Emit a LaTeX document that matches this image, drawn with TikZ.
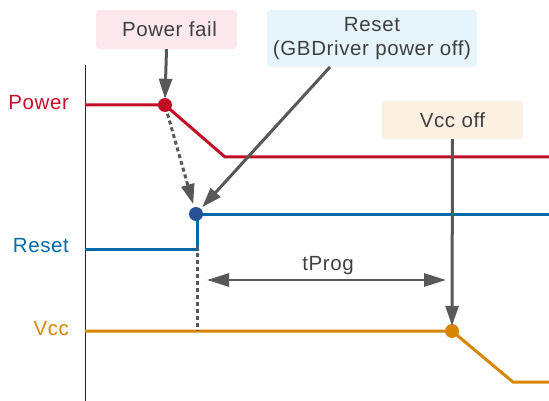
\documentclass[tikz,border=0pt]{standalone}
\usepackage{fontspec}
\setmainfont[LetterSpace=3]{Liberation Sans}
\usetikzlibrary{arrows.meta}
\definecolor{pwr}{RGB}{192,16,40}
\definecolor{rst}{RGB}{0,105,170}
\definecolor{rstdot}{RGB}{40,82,152}
\definecolor{vcc}{RGB}{214,134,0}
\definecolor{arrgray}{RGB}{88,88,88}
\definecolor{txtgray}{RGB}{64,64,64}
\definecolor{pinkbox}{RGB}{251,231,236}
\definecolor{bluebox}{RGB}{230,244,251}
\definecolor{beigebox}{RGB}{252,240,226}
\begin{document}
\begin{tikzpicture}[x=1pt,y=-1pt,
  every node/.style={font=\fontsize{20.5}{24}\selectfont},
  callout/.style={rounded corners=4pt, inner sep=0pt, text=txtgray, align=center},
  sig/.style={line width=3pt, line join=miter},
  dot/.style={circle, inner sep=0pt, minimum size=14pt},
  arr/.style={draw=arrgray, line width=3pt, -{Triangle[length=20pt,width=13pt]}},
  darr/.style={draw=arrgray, line width=2.8pt, {Triangle[length=22pt,width=13pt]}-{Triangle[length=22pt,width=13pt]}},
  dsh/.style={draw=arrgray, line width=3pt, dash pattern=on 4pt off 3pt},
  lab/.style={anchor=east}
]
\useasboundingbox (0,0) rectangle (549,401);
% axis
\draw[line width=1pt, draw=black!85] (85,65) -- (85,401);
% callouts
\node[callout, fill=pinkbox, minimum width=141pt, minimum height=39pt] (pf) at (166.5,29.5) {\hspace{6pt}Power fail};
\node[callout, fill=bluebox, minimum width=210pt, minimum height=57pt] (rs) at (372,38.5) {Reset\\(GBDriver power off)};
\node[callout, fill=beigebox, minimum width=141pt, minimum height=38pt] (vo) at (452.5,120) {Vcc off};
% labels
\node[lab, text=pwr] (lp) at (72.5,103) {Power};
\node[lab, text=rst] (lr) at (72.5,246) {Reset};
\node[lab, text=vcc] (lv) at (72.5,329) {Vcc};
% signal coordinates
\coordinate (p0) at (85,105);
\coordinate (p1) at (165,105);
\coordinate (p2) at (225,157);
\coordinate (p3) at (549,157);
\coordinate (r0) at (85,249);
\coordinate (r1) at (197,249);
\coordinate (r2) at (197,214);
\coordinate (r3) at (549,214);
\coordinate (v0) at (85,331);
\coordinate (v1) at (452,331);
\coordinate (v2) at (513,382);
\coordinate (v3) at (549,382);
\coordinate (vq) at (197,331);
% signals
\draw[sig, draw=pwr] (p0) -- (p1) -- (p2) -- (p3);
\draw[sig, draw=rst] (r0) -- (r1) -- (r2) -- (r3);
\draw[sig, draw=vcc] (v0) -- (v1) -- (v2) -- (v3);
% dots
\node[dot, fill=pwr] (pdot) at (p1) {};
\node[dot, fill=rstdot] (rdot) at (196,214) {};
\node[dot, fill=vcc] (vdot) at (v1) {};
% arrows
\draw[arr] (pf.south) -- ([yshift=-1pt]pdot.north);
\coordinate (rsrc) at (330,67);
\draw[arr, shorten >=2pt] (rsrc) -- (rdot);
\draw[dsh, -{Triangle[length=20pt,width=13pt]}, shorten <=2pt, shorten >=3pt] (pdot) -- (rdot);
\draw[dsh] ([yshift=3pt]r1) -- (vq);
\draw[arr] (vo.south) -- ([yshift=-2pt]vdot.north);
\coordinate (tl) at (207,280);
\coordinate (tr) at (446,280);
\draw[darr] (tl) -- (tr);
\node[text=txtgray] (tp) at (328,266) {tProg};
\end{tikzpicture}
\end{document}
